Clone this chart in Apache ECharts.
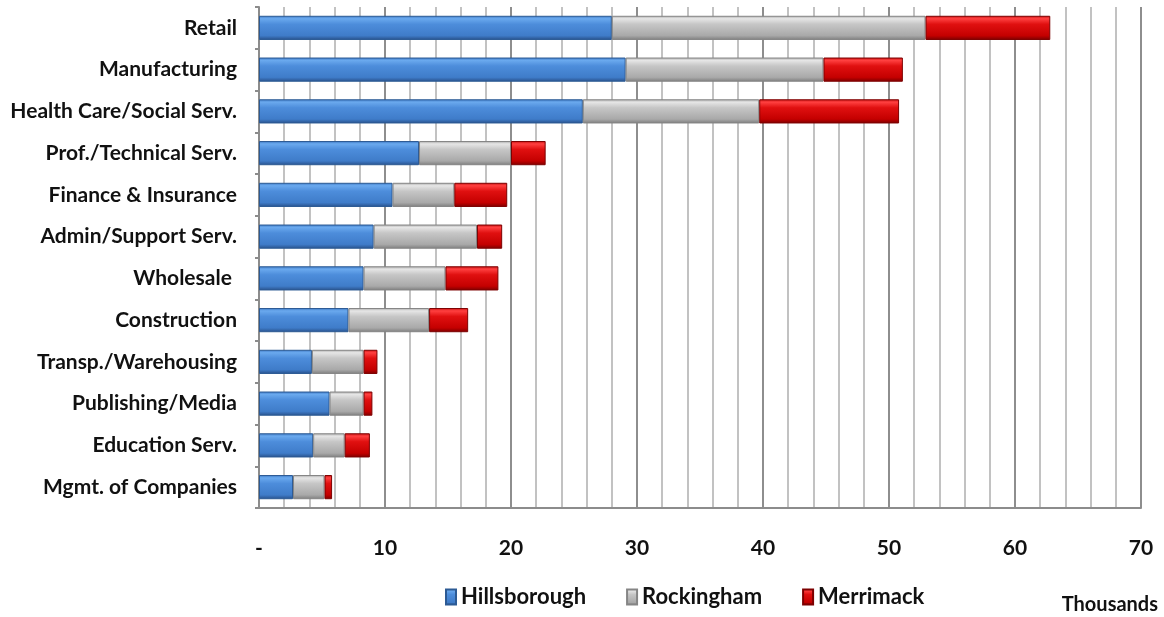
<!DOCTYPE html>
<html>
<head>
<meta charset="utf-8">
<style>
  html, body { margin: 0; padding: 0; background: #ffffff; }
  #chart { width: 1164px; height: 617px; }
</style>
<script src="https://cdn.jsdelivr.net/npm/echarts@6/dist/echarts.min.js"></script>
</head>
<body>
<div id="chart"></div>
<script>
// Employment by industry, thousands of jobs, by county
const industries = [
  'Retail', 'Manufacturing', 'Health Care/Social Serv.', 'Prof./Technical Serv.',
  'Finance & Insurance', 'Admin/Support Serv.', 'Wholesale ', 'Construction',
  'Transp./Warehousing', 'Publishing/Media', 'Education Serv.', 'Mgmt. of Companies'
];
const hillsborough = [28.0, 29.1, 25.7, 12.7, 10.6, 9.1, 8.3, 7.1, 4.2, 5.6, 4.3, 2.7];
const rockingham   = [24.9, 15.7, 14.0, 7.3, 4.9, 8.2, 6.5, 6.4, 4.1, 2.7, 2.5, 2.5];
const merrimack    = [9.9, 6.3, 11.1, 2.75, 4.2, 2.0, 4.2, 3.1, 1.1, 0.7, 2.0, 0.6];
const xTicks = { 0: '-', 10: '10', 20: '20', 30: '30', 40: '40', 50: '50', 60: '60', 70: '70' };

const FONT = "'Lato', sans-serif";

// bevelled fills: bright top edge, dark bottom edge
function bevel(top, hi, mid, low, bottom) {
  return new echarts.graphic.LinearGradient(0, 0, 0, 1, [
    { offset: 0, color: top },
    { offset: 0.12, color: hi },
    { offset: 0.35, color: mid },
    { offset: 0.82, color: low },
    { offset: 1, color: bottom }
  ]);
}
const blueFill = bevel('#3d78c4', '#6aa9ee', '#4d8ddb', '#3f7cc9', '#285089');
const grayFill = bevel('#a8a8a8', '#e6e6e6', '#c6c6c6', '#a9a9a9', '#7c7c7c');
const redFill  = bevel('#c81010', '#ff4040', '#e01010', '#c40000', '#7a0000');

function stackSeries(name, data, fill, border) {
  return {
    name: name,
    type: 'bar',
    stack: 'total',
    barWidth: '58%',
    data: data,
    itemStyle: { color: fill, borderColor: border, borderWidth: 1 },
    emphasis: { disabled: true }
  };
}

const chart = echarts.init(document.getElementById('chart'), null, { renderer: 'canvas' });
chart.setOption({
  animation: false,
  backgroundColor: '#ffffff',
  grid: { left: 259, right: 23, top: 7, bottom: 109, containLabel: false },
  legend: {
    bottom: 4,
    left: 440,
    itemGap: 40,
    itemWidth: 10,
    itemHeight: 15,
    icon: 'rect',
    textStyle: { fontFamily: FONT, fontWeight: 'bold', fontSize: 22, color: '#111' },
    data: ['Hillsborough', 'Rockingham', 'Merrimack']
  },
  xAxis: {
    type: 'value',
    min: 0,
    max: 70,
    interval: 10,
    axisLine: { show: true, lineStyle: { color: '#8c8c8c', width: 2 } },
    axisTick: { show: false },
    axisLabel: {
      margin: 30,
      fontFamily: FONT, fontWeight: 'bold', fontSize: 21, color: '#111',
      formatter: v => xTicks[v] !== undefined ? xTicks[v] : ''
    },
    splitLine: { show: true, lineStyle: { color: '#8e8e8e', width: 2 } },
    minorTick: { show: false, splitNumber: 5 },
    minorSplitLine: { show: true, lineStyle: { color: '#c2c2c2', width: 2 } }
  },
  yAxis: {
    type: 'category',
    inverse: true,
    data: industries,
    axisLine: { show: true, lineStyle: { color: '#8c8c8c', width: 2 } },
    axisTick: { show: true, length: 4, lineStyle: { color: '#8c8c8c', width: 2 } },
    axisLabel: {
      margin: 22,
      fontFamily: FONT, fontWeight: 'bold', fontSize: 21, color: '#111'
    }
  },
  series: [
    stackSeries('Hillsborough', hillsborough, blueFill, '#2c5a94'),
    stackSeries('Rockingham', rockingham, grayFill, '#858585'),
    stackSeries('Merrimack', merrimack, redFill, '#7d0000')
  ],
  graphic: [{
    type: 'text',
    right: 6,
    top: 595,
    style: {
      text: 'Thousands',
      fontFamily: FONT, fontWeight: 'bold', fontSize: 20, fill: '#111'
    }
  }]
});
</script>
</body>
</html>
